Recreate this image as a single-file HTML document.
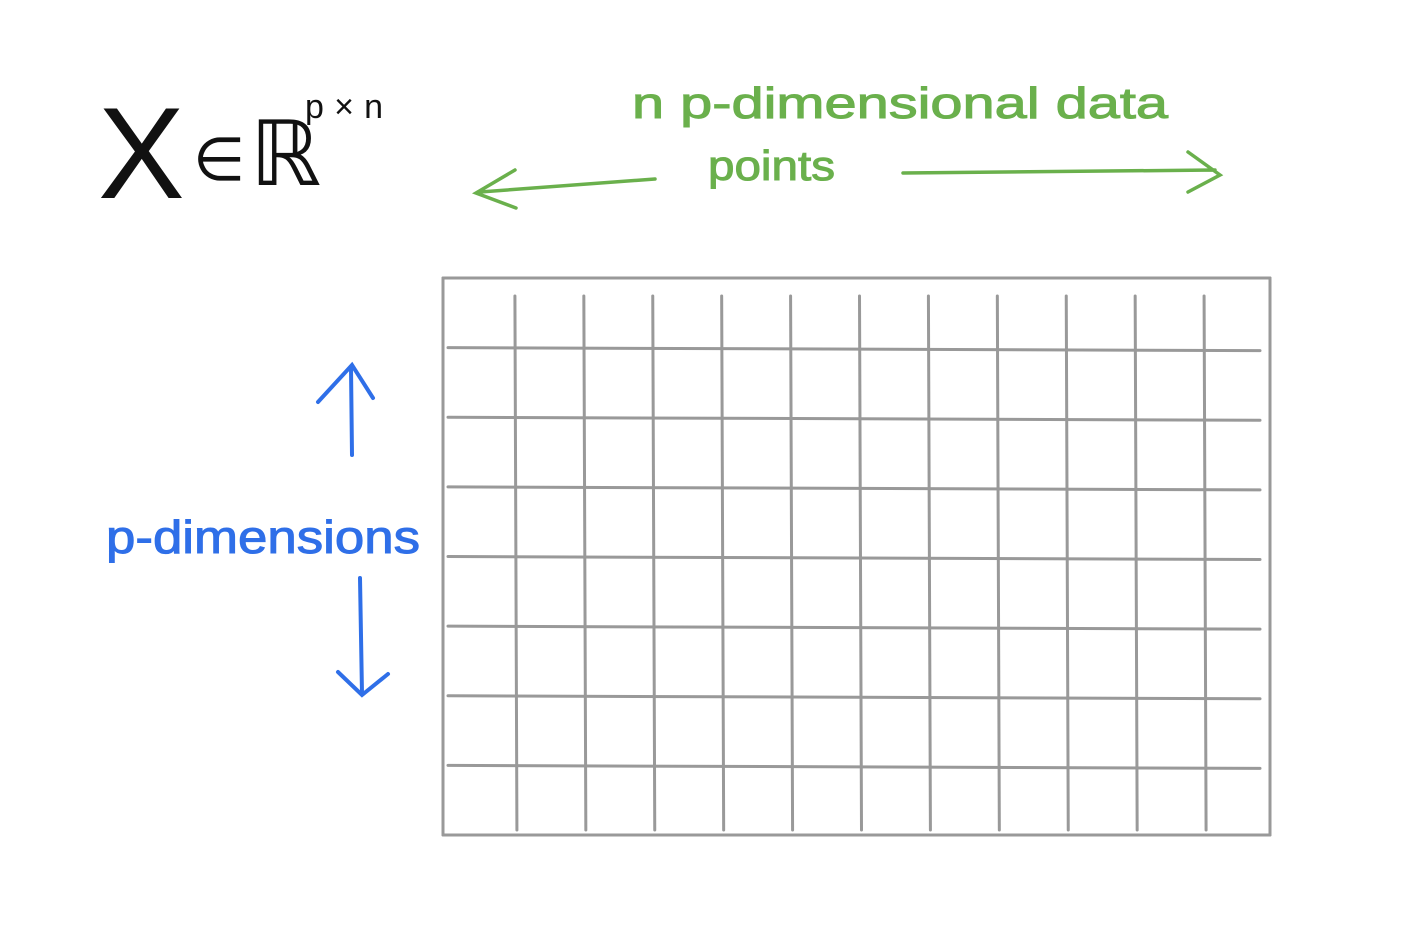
<!DOCTYPE html>
<html><head><meta charset="utf-8"><style>
html,body{margin:0;padding:0;background:#fff;width:1420px;height:948px;overflow:hidden}
svg{display:block}
text{font-family:"Liberation Sans",sans-serif}
</style></head><body>
<svg id="s" width="1420" height="948" viewBox="0 0 1420 948">
<g>
<text x="98" y="198" font-size="130" fill="#111">X</text>
<text x="193" y="180" font-size="60" fill="#111">∈</text>
<text x="250" y="185" font-size="90" fill="#111">ℝ</text>
<text x="305" y="118" font-size="34" fill="#111" textLength="78">p×n</text>
</g>
<g fill="#6ab04c" stroke="#6ab04c" stroke-width="1">
<text x="632" y="118" font-size="44" textLength="536" lengthAdjust="spacingAndGlyphs">n  p-dimensional  data</text>
<text x="708" y="180" font-size="42" textLength="127" lengthAdjust="spacingAndGlyphs">points</text>
</g>
<g fill="none" stroke="#6ab04c" stroke-width="3.5" stroke-linecap="round">
<path d="M655 179 L480 192 M515 170 L476 193 L516 208"/>
<path d="M903 173 L1215 170 M1188 152 L1220 175 L1188 192"/>
</g>
<g>
<text x="106" y="553" font-size="46" fill="#2f6fe8" stroke="#2f6fe8" stroke-width="1" textLength="314" lengthAdjust="spacingAndGlyphs">p-dimensions</text>
<g fill="none" stroke="#2f6fe8" stroke-width="4" stroke-linecap="round">
<path d="M352 455 L351 368 M318 402 L352 365 L373 398"/>
<path d="M360 578 L362 694 M338 672 L362 695 L388 674"/>
</g>
</g>
<g id="grid" fill="none" stroke="#999" stroke-width="3" stroke-linecap="round"></g>
</svg>
<script>
const nCols = 12;
const nRows = 8;
const g = document.getElementById('grid');
const L = 443, R = 1270, T = 278, B = 835;
function line(x1,y1,x2,y2,name){
  const p = document.createElementNS('http://www.w3.org/2000/svg','line');
  p.setAttribute('x1',x1);p.setAttribute('y1',y1);p.setAttribute('x2',x2);p.setAttribute('y2',y2);
  
  
  g.appendChild(p);
}
line(L,T,L,B,'grid-border');
line(R,T,R,B,'grid-border');
line(L,T,R,T,'grid-border');
line(L,B,R,B,'grid-border');
const cw=(R-L)/nCols, rh=(B-T)/nRows;
for(let i=1;i<nCols;i++){ const x=L+i*cw+3; line(x,T+18,x+2,B-5,'grid-column-line'); }
for(let j=1;j<nRows;j++){ const y=T+j*rh; line(L+5,y,R-10,y+3,'grid-row-line'); }
</script>
</body></html>
